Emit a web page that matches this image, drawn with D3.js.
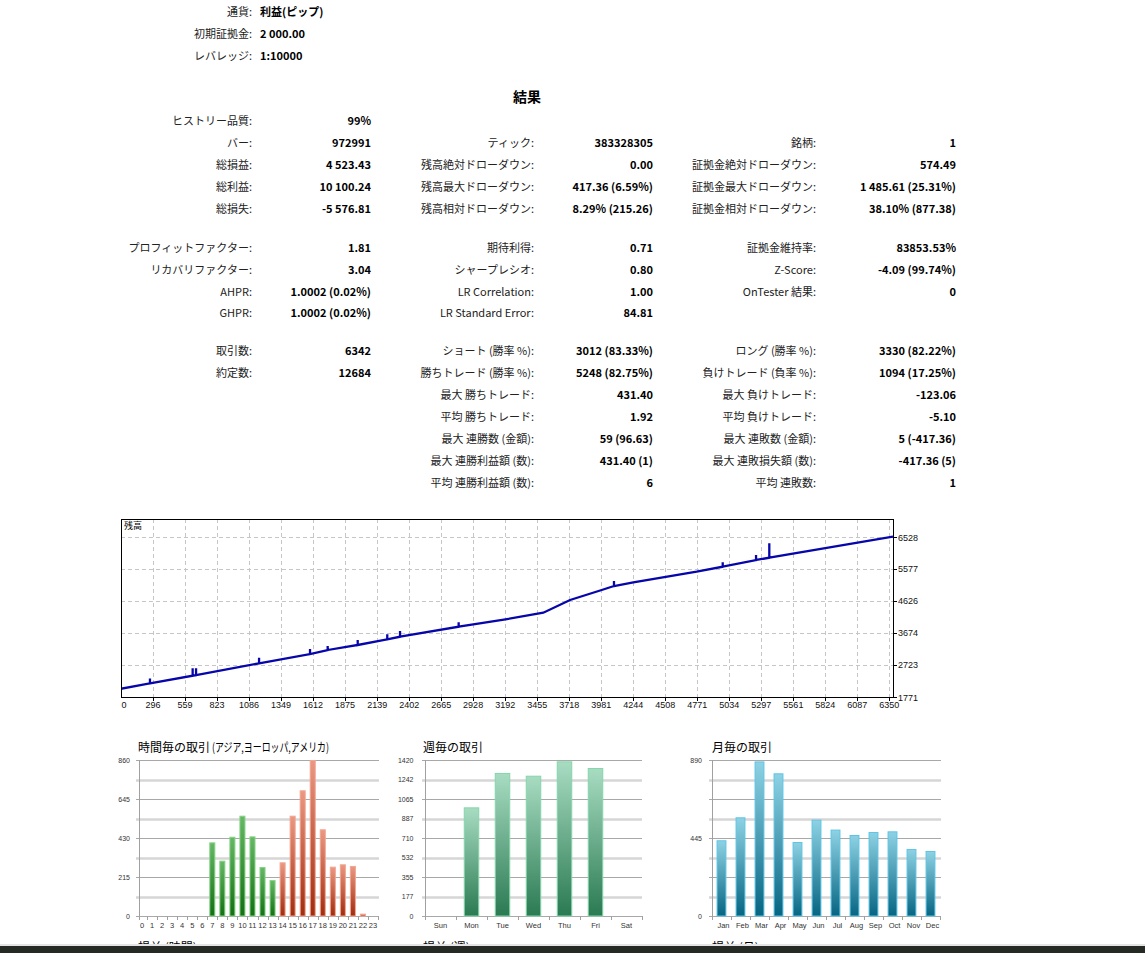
<!DOCTYPE html>
<html>
<head>
<meta charset="utf-8">
<script src="https://cdn.jsdelivr.net/npm/d3@7"></script>
<style>
  body { margin: 0; background: #fff; overflow: hidden; }
  svg { display: block; }
</style>
</head>
<body>
<svg id="chart" width="1145" height="953"></svg>
<script>
// ---- データ ----
const headerLabels = ["通貨:", "初期証拠金:", "レバレッジ:"];
const headerValues = ["利益(ピップ)", "2 000.00", "1:10000"];

const col1Labels = ["ヒストリー品質:", "バー:", "総損益:", "総利益:", "総損失:", "プロフィットファクター:", "リカバリファクター:", "AHPR:", "GHPR:", "取引数:", "約定数:", "", "", "", "", ""];
const col1Values = ["99%", "972991", "4 523.43", "10 100.24", "-5 576.81", "1.81", "3.04", "1.0002 (0.02%)", "1.0002 (0.02%)", "6342", "12684", "", "", "", "", ""];
const col2Labels = ["", "ティック:", "残高絶対ドローダウン:", "残高最大ドローダウン:", "残高相対ドローダウン:", "期待利得:", "シャープレシオ:", "LR Correlation:", "LR Standard Error:", "ショート (勝率 %):", "勝ちトレード (勝率 %):", "最大 勝ちトレード:", "平均 勝ちトレード:", "最大 連勝数 (金額):", "最大 連勝利益額 (数):", "平均 連勝利益額 (数):"];
const col2Values = ["", "383328305", "0.00", "417.36 (6.59%)", "8.29% (215.26)", "0.71", "0.80", "1.00", "84.81", "3012 (83.33%)", "5248 (82.75%)", "431.40", "1.92", "59 (96.63)", "431.40 (1)", "6"];
const col3Labels = ["", "銘柄:", "証拠金絶対ドローダウン:", "証拠金最大ドローダウン:", "証拠金相対ドローダウン:", "証拠金維持率:", "Z-Score:", "OnTester 結果:", "", "ロング (勝率 %):", "負けトレード (負率 %):", "最大 負けトレード:", "平均 負けトレード:", "最大 連敗数 (金額):", "最大 連敗損失額 (数):", "平均 連敗数:"];
const col3Values = ["", "1", "574.49", "1 485.61 (25.31%)", "38.10% (877.38)", "83853.53%", "-4.09 (99.74%)", "0", "", "3330 (82.22%)", "1094 (17.25%)", "-123.06", "-5.10", "5 (-417.36)", "-417.36 (5)", "1"];

// 残高グラフ (取引番号, 残高)
const balanceTrade = [0, 271, 271, 271, 622, 622, 622, 650, 650, 650, 1168, 1168, 1168, 1587, 1587, 1587, 1732, 1732, 1732, 1979, 1979, 1979, 2222, 2222, 2222, 2327, 2327, 2327, 2809, 2809, 2809, 3194, 3505, 3725, 3985, 4086, 4086, 4086, 4245, 4766, 4980, 4980, 4980, 5254, 5254, 5254, 5363, 5363, 5363, 6380];
const balanceValue = [1995, 2178, 2318, 2178, 2404, 2624, 2404, 2420, 2624, 2420, 2773, 2940, 2773, 3049, 3198, 3049, 3168, 3287, 3168, 3317, 3466, 3317, 3486, 3635, 3486, 3564, 3733, 3564, 3861, 3992, 3861, 4080, 4277, 4655, 4952, 5071, 5220, 5071, 5180, 5497, 5645, 5776, 5645, 5844, 5993, 5844, 5912, 6340, 5912, 6537];
const balanceXTicks = [0, 296, 559, 823, 1086, 1349, 1612, 1875, 2139, 2402, 2665, 2928, 3192, 3455, 3718, 3981, 4244, 4508, 4771, 5034, 5297, 5561, 5824, 6087, 6350];
const balanceYTicks = [1771, 2723, 3674, 4626, 5577, 6528];

// 時間毎 / 週毎 / 月毎
const hourLabels = ["0","1","2","3","4","5","6","7","8","9","10","11","12","13","14","15","16","17","18","19","20","21","22","23"];
const hourValues = [0, 0, 0, 0, 0, 0, 0, 406, 305, 437, 553, 439, 270, 198, 296, 553, 693, 860, 478, 272, 285, 276, 13, 0];
const hourYTicks = [0, 215, 430, 645, 860];
const weekLabels = ["Sun", "Mon", "Tue", "Wed", "Thu", "Fri", "Sat"];
const weekValues = [0, 989, 1302, 1277, 1408, 1347, 0];
const weekYTicks = [0, 177, 355, 532, 710, 887, 1065, 1242, 1420];
const monthLabels = ["Jan", "Feb", "Mar", "Apr", "May", "Jun", "Jul", "Aug", "Sep", "Oct", "Nov", "Dec"];
const monthValues = [432, 563, 882, 814, 422, 550, 493, 462, 479, 483, 382, 371];
const monthYTicks = [0, 445, 890];

// ---- 描画 ----
const svg = d3.select("#chart");
const jp = "'Noto Sans CJK JP', 'DejaVu Sans', sans-serif";
const lat = "'Liberation Sans', Arial, sans-serif";

// ヘッダー
const headerY = [12, 34, 56];
headerLabels.forEach((t, i) => {
  svg.append("text").attr("x", 252).attr("y", headerY[i] + 4)
    .attr("text-anchor", "end").attr("font-family", jp).attr("font-size", 11)
    .attr("fill", "#222").text(t);
  svg.append("text").attr("x", 260).attr("y", headerY[i] + 4)
    .attr("font-family", jp).attr("font-size", 11).attr("font-weight", "bold")
    .attr("fill", "#000").text(headerValues[i]);
});

svg.append("text").attr("x", 527).attr("y", 102).attr("text-anchor", "middle")
  .attr("font-family", jp).attr("font-size", 14).attr("font-weight", "bold").text("結果");

// 結果テーブル
const rowY = [121, 143, 165, 187, 209, 248, 270, 292, 313, 351, 373, 395, 417, 439, 461, 483];
const cols = [
  { labels: col1Labels, values: col1Values, lx: 252, vx: 371 },
  { labels: col2Labels, values: col2Values, lx: 534, vx: 653 },
  { labels: col3Labels, values: col3Values, lx: 816, vx: 956 }
];
cols.forEach(c => {
  rowY.forEach((y, i) => {
    if (c.labels[i]) {
      svg.append("text").attr("x", c.lx).attr("y", y + 4).attr("text-anchor", "end")
        .attr("font-family", jp).attr("font-size", 11).attr("fill", "#222").text(c.labels[i]);
    }
    if (c.values[i]) {
      svg.append("text").attr("x", c.vx).attr("y", y + 4).attr("text-anchor", "end")
        .attr("font-family", jp).attr("font-size", 11).attr("font-weight", "bold")
        .attr("fill", "#000").text(c.values[i]);
    }
  });
});

// 残高グラフ
const bl = 121, bt = 519, br = 893, bb = 697;
const bx = d3.scaleLinear().domain([0, 6380]).range([117, br]);
const by = d3.scaleLinear().domain([1771, 6528]).range([bb, 537]);

svg.append("clipPath").attr("id", "bclip").append("rect")
  .attr("x", bl).attr("y", bt).attr("width", br - bl).attr("height", bb - bt);

const bg = svg.append("g");
bg.selectAll(".vg").data(balanceXTicks.filter(d => d > 0)).enter().append("line")
  .attr("x1", d => Math.round(bx(d)) + 0.5).attr("x2", d => Math.round(bx(d)) + 0.5)
  .attr("y1", bt).attr("y2", bb).attr("stroke", "#c6c6c6").attr("stroke-dasharray", "4,3");
bg.selectAll(".hg").data(balanceYTicks.filter(d => d > 1771)).enter().append("line")
  .attr("x1", bl).attr("x2", br).attr("y1", d => Math.round(by(d)) + 0.5).attr("y2", d => Math.round(by(d)) + 0.5)
  .attr("stroke", "#c6c6c6").attr("stroke-dasharray", "4,3");

const balLine = d3.line().x((d, i) => bx(balanceTrade[i])).y(d => by(d));
bg.append("path").datum(balanceValue).attr("clip-path", "url(#bclip)")
  .attr("d", balLine).attr("fill", "none").attr("stroke", "#0606aa").attr("stroke-width", 2.3);

bg.append("rect").attr("x", bl + 0.5).attr("y", bt + 0.5).attr("width", br - bl).attr("height", bb - bt)
  .attr("fill", "none").attr("stroke", "#000");

bg.selectAll(".xt").data(balanceXTicks.filter(d => d > 0)).enter().append("line")
  .attr("x1", d => Math.round(bx(d)) + 0.5).attr("x2", d => Math.round(bx(d)) + 0.5)
  .attr("y1", bb).attr("y2", bb + 4).attr("stroke", "#000");
bg.selectAll(".xl").data(balanceXTicks).enter().append("text")
  .attr("x", d => Math.max(bx(d), bl + 3)).attr("y", bb + 11).attr("text-anchor", "middle")
  .attr("font-family", lat).attr("font-size", 9).attr("fill", "#111").text(d => d);
bg.selectAll(".yt").data(balanceYTicks).enter().append("line")
  .attr("x1", br).attr("x2", br + 4).attr("y1", d => Math.round(by(d)) + 0.5).attr("y2", d => Math.round(by(d)) + 0.5)
  .attr("stroke", "#000");
bg.selectAll(".yl").data(balanceYTicks).enter().append("text")
  .attr("x", br + 5).attr("y", d => by(d) + 3.5).attr("font-family", lat).attr("font-size", 9)
  .attr("fill", "#111").text(d => d);
bg.append("text").attr("x", 124).attr("y", 529).attr("font-family", jp).attr("font-size", 9).text("残高");

// グラデーション
const defs = svg.append("defs");
function grad(id, top, bottom) {
  const g = defs.append("linearGradient").attr("id", id).attr("x1", 0).attr("y1", 0).attr("x2", 0).attr("y2", 1);
  g.append("stop").attr("offset", "0%").attr("stop-color", top);
  g.append("stop").attr("offset", "100%").attr("stop-color", bottom);
}
grad("gGreen", "#66b866", "#137013");
grad("gRed", "#eb9882", "#a02c0e");
grad("gTeal", "#a8dcc2", "#2a7a52");
grad("gBlue", "#8ed2e4", "#066582");

function barChart(o) {
  const g = svg.append("g");
  const x = d3.scaleBand().domain(o.labels).range(o.range).paddingInner(o.pad).paddingOuter(o.pad / 2);
  const y = d3.scaleLinear().domain([0, o.max]).range([o.bottom, o.top]);
  d3.range(9).forEach(i => {
    const v = o.max * i / 8;
    const dark = i % 2 === 0;
    g.append("line").attr("x1", o.axis - 3).attr("x2", o.right)
      .attr("y1", Math.round(y(v)) + 0.5).attr("y2", Math.round(y(v)) + 0.5)
      .attr("stroke", dark ? "#a8a8a8" : "#d6d6d6").attr("stroke-width", dark ? 1 : 2.5);
  });
  g.append("line").attr("x1", o.axis + 0.5).attr("x2", o.axis + 0.5).attr("y1", o.top).attr("y2", o.bottom + 4)
    .attr("stroke", "#a0a0a0");
  const bounds = o.labels.map(l => x(l) - x.step() * o.pad / 2).concat([o.range[1]]);
  g.selectAll(".tk").data(bounds.slice(1)).enter().append("line")
    .attr("x1", d => Math.round(d) + 0.5).attr("x2", d => Math.round(d) + 0.5)
    .attr("y1", o.bottom).attr("y2", o.bottom + 4).attr("stroke", "#a0a0a0");
  g.selectAll(".bar").data(o.values.map((v, i) => ({ v, l: o.labels[i], i }))).enter()
    .filter(d => d.v > 0).append("rect")
    .attr("x", d => x(d.l) + 0.5).attr("width", x.bandwidth() - 1)
    .attr("y", d => y(d.v) + 0.5).attr("height", d => o.bottom - y(d.v) - 0.5)
    .attr("fill", d => `url(#${o.fill(d.i)})`).attr("stroke", d => o.stroke(d.i)).attr("stroke-width", 1);
  g.selectAll(".xl").data(o.labels).enter().append("text")
    .attr("x", d => x(d) + x.bandwidth() / 2 + (o.labelShift || 0)).attr("y", o.bottom + 12)
    .attr("text-anchor", "middle").attr("font-family", lat).attr("font-size", 7.5).attr("fill", "#333").text(d => d);
  g.selectAll(".yl").data(o.yTicks).enter().append("text")
    .attr("x", o.labelRight).attr("y", d => y(d) + 2.5).attr("text-anchor", "end")
    .attr("font-family", lat).attr("font-size", 7).attr("fill", "#333").text(d => d);
}

barChart({
  labels: hourLabels, values: hourValues, max: 860, yTicks: hourYTicks,
  range: [137, 378], pad: 0.4, top: 760, bottom: 916, axis: 139, right: 379, labelRight: 130,
  fill: i => (i >= 7 && i <= 13 ? "gGreen" : "gRed"),
  stroke: i => (i >= 7 && i <= 13 ? "#86d386" : "#f2a592")
});
barChart({
  labels: weekLabels, values: weekValues, max: 1420, yTicks: weekYTicks,
  range: [425, 642], pad: 0.5, top: 760, bottom: 916, axis: 425, right: 642, labelRight: 413.5,
  fill: () => "gTeal", stroke: () => "#84d6aa"
});
barChart({
  labels: monthLabels, values: monthValues, max: 890, yTicks: monthYTicks,
  range: [712, 940], pad: 0.48, top: 760, bottom: 916, axis: 712, right: 941, labelRight: 702, labelShift: 2,
  fill: () => "gBlue", stroke: () => "#5ec4e4"
});

// タイトル
svg.append("text").attr("x", 138).attr("y", 752).attr("font-family", jp).attr("font-size", 12).text("時間毎の取引");
svg.append("text").attr("x", 212).attr("y", 752).attr("font-family", jp).attr("font-size", 12)
  .attr("textLength", 117).attr("lengthAdjust", "spacingAndGlyphs").text("(アジア,ヨーロッパ,アメリカ)");
svg.append("text").attr("x", 423).attr("y", 752).attr("font-family", jp).attr("font-size", 12).text("週毎の取引");
svg.append("text").attr("x", 712).attr("y", 752).attr("font-family", jp).attr("font-size", 12).text("月毎の取引");

// 下端 (次の段のタイトルは画面の端で切れている)
svg.append("clipPath").attr("id", "cut").append("rect").attr("x", 0).attr("y", 0).attr("width", 1145).attr("height", 944);
const cutT = svg.append("g").attr("clip-path", "url(#cut)");
[["損益 (時間)", 138], ["損益 (週)", 423], ["損益 (月)", 712]].forEach(([t, x]) => {
  cutT.append("text").attr("x", x).attr("y", 952).attr("font-family", jp).attr("font-size", 12).text(t);
});
svg.append("rect").attr("x", 0).attr("y", 944).attr("width", 1145).attr("height", 2).attr("fill", "#e4e4e4");
svg.append("rect").attr("x", 0).attr("y", 946).attr("width", 1145).attr("height", 7).attr("fill", "#262a24");
</script>
</body>
</html>
